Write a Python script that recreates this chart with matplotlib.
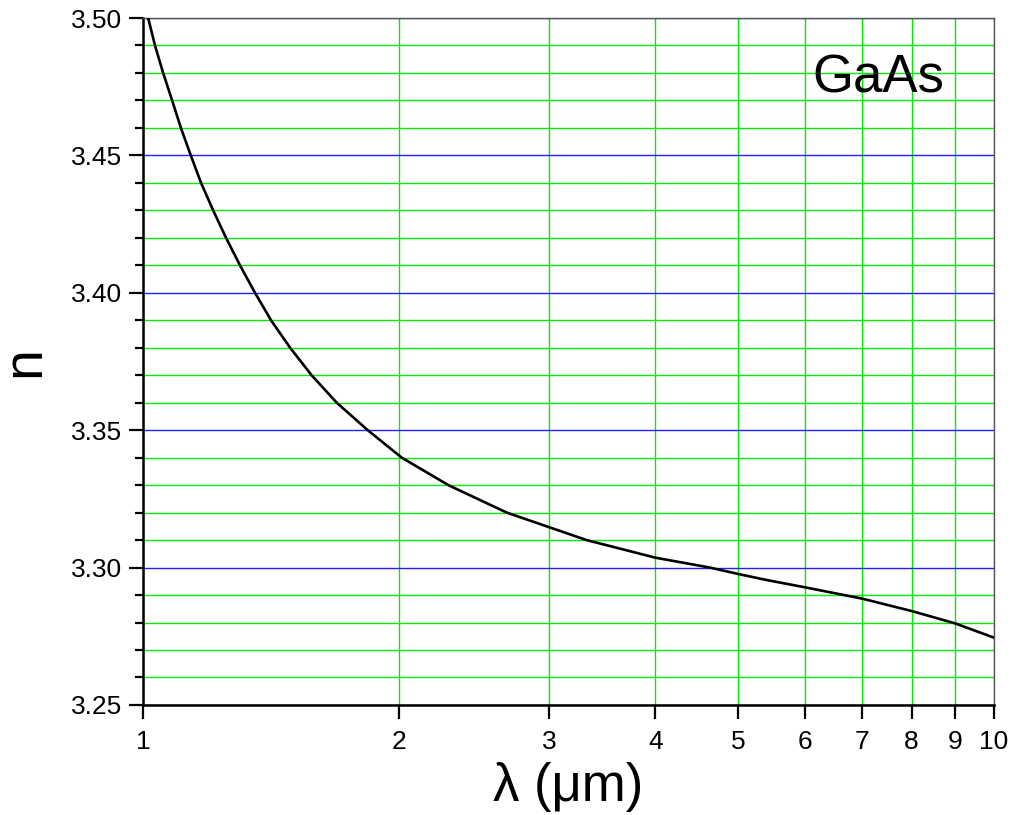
import numpy as np
import matplotlib
matplotlib.use('Agg')
import matplotlib.pyplot as plt
from matplotlib.ticker import MultipleLocator, FixedLocator, FixedFormatter, NullLocator

# ── Data ─────────────────────────────────────────────────────────
wavelength_um = [1.000, 1.014, 1.033, 1.056, 1.082, 1.108, 1.138, 1.170,
                 1.209, 1.252, 1.300, 1.354, 1.414, 1.489, 1.578, 1.689,
                 1.837, 2.014, 2.285, 2.676, 3.322, 4.000, 4.637, 5.000,
                 5.400, 6.000, 7.000, 8.000, 9.000, 10.000]
refr_index = [3.507, 3.500, 3.490, 3.480, 3.470, 3.460, 3.450, 3.440,
              3.430, 3.420, 3.410, 3.400, 3.390, 3.380, 3.370, 3.360,
              3.350, 3.340, 3.330, 3.320, 3.310, 3.3036, 3.300, 3.2977,
              3.2955, 3.2928, 3.2887, 3.2842, 3.2797, 3.2745]

x_ticks = [1, 2, 3, 4, 5, 6, 7, 8, 9, 10]
x_tick_labels = ["1", "2", "3", "4", "5", "6", "7", "8", "9", "10"]

plt.rcParams.update({
    "font.family": ["Liberation Sans", "DejaVu Sans"],
})

fig = plt.figure(figsize=(10.15, 8.15), dpi=100)
ax = fig.add_axes([0.1409, 0.1350, 0.9793 - 0.1409, 0.9779 - 0.1350])

ax.plot(wavelength_um, refr_index, color="black", lw=1.9, zorder=5,
        clip_on=True)

ax.set_xscale("log")
ax.set_xlim(1, 10)
ax.set_ylim(3.25, 3.50)

ax.xaxis.set_major_locator(FixedLocator(x_ticks))
ax.xaxis.set_major_formatter(FixedFormatter(x_tick_labels))
ax.xaxis.set_minor_locator(NullLocator())
ax.yaxis.set_major_locator(MultipleLocator(0.05))
ax.yaxis.set_minor_locator(MultipleLocator(0.01))
ax.yaxis.set_major_formatter(matplotlib.ticker.FormatStrFormatter("%.2f"))

# grid: green minor / x, blue major y
ax.yaxis.grid(True, which="minor", color="#00ee00", lw=1.0, zorder=1)
ax.yaxis.grid(True, which="major", color="#2020ff", lw=1.0, zorder=2)
ax.xaxis.grid(True, which="major", color="#00ee00", lw=1.0, zorder=1)
ax.set_axisbelow(True)

ax.tick_params(axis="both", which="major", direction="out", length=10,
               width=1.6, labelsize=19)
ax.tick_params(axis="x", which="major", pad=8)
ax.tick_params(axis="y", which="major", pad=5)
ax.tick_params(axis="y", which="minor", direction="out", length=6,
               width=1.6)

for side in ("left", "bottom"):
    ax.spines[side].set_linewidth(1.8)
    ax.spines[side].set_color("black")
for side in ("top", "right"):
    ax.spines[side].set_linewidth(1.0)
    ax.spines[side].set_color("#555555")

ax.set_xlabel("λ (μm)", fontsize=38, labelpad=6)
ax.set_ylabel("n", fontsize=40, labelpad=14)

ax.text(0.942, 0.891, "GaAs", transform=ax.transAxes, fontsize=38,
        ha="right", va="baseline", zorder=6)

fig.savefig("out.png", dpi=100)
